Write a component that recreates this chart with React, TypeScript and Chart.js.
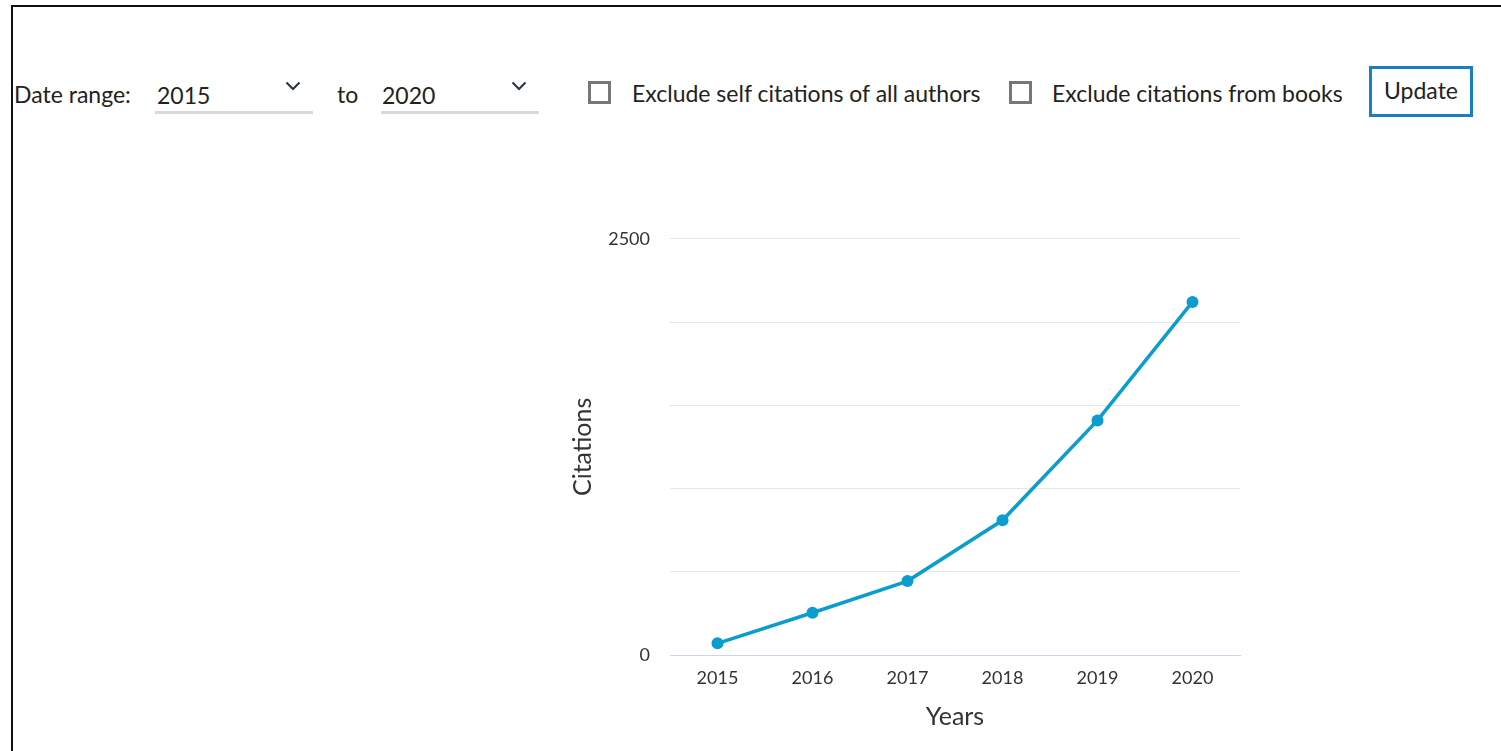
import React, { useEffect, useRef } from "react";
import { Chart, registerables } from "chart.js";

Chart.register(...registerables);

const years = ["2015", "2016", "2017", "2018", "2019", "2020"];
const citations = [70, 254, 444, 809, 1409, 2121];
const shownYTicks = [0, 2500];
const yMax = 2500;
const yStep = 500;

const FONT = "Lato, 'Noto Sans', sans-serif";
const LINE_COLOR = "#0a9dce";

function Chevron({ left, top }: { left: number; top: number }) {
  return (
    <svg
      style={{ position: "absolute", left, top }}
      width={16}
      height={10}
      viewBox="0 0 16 10"
    >
      <polyline points="1.5,1.5 8,8 14.5,1.5" fill="none" stroke="#2a3440" strokeWidth={2} />
    </svg>
  );
}

function Checkbox({ left, top }: { left: number; top: number }) {
  return (
    <div
      style={{
        position: "absolute",
        left,
        top,
        width: 17,
        height: 17,
        border: "3px solid #777",
        background: "#fff",
      }}
    />
  );
}

const textStyle: React.CSSProperties = {
  position: "absolute",
  fontFamily: FONT,
  fontSize: 23,
  color: "#222",
  whiteSpace: "nowrap",
  lineHeight: "26px",
};

export default function App() {
  const canvasRef = useRef<HTMLCanvasElement | null>(null);

  useEffect(() => {
    if (!canvasRef.current) return;
    const chart = new Chart(canvasRef.current, {
      type: "line",
      data: {
        labels: years,
        datasets: [
          {
            label: "Citations",
            data: citations,
            borderColor: LINE_COLOR,
            backgroundColor: LINE_COLOR,
            borderWidth: 3.5,
            pointRadius: 6,
            pointBackgroundColor: LINE_COLOR,
            pointBorderWidth: 0,
            tension: 0,
          },
        ],
      },
      options: {
        animation: false,
        responsive: false,
        devicePixelRatio: 1,
        layout: { padding: { top: 10, right: 10, bottom: 0, left: 0 } },
        plugins: { legend: { display: false }, tooltip: { enabled: false } },
        scales: {
          x: {
            offset: true,
            grid: { display: false, drawTicks: false },
            border: { display: true, color: "#ccd6eb", width: 1 },
            ticks: {
              color: "#333",
              font: { family: FONT, size: 18 },
              padding: 12,
              maxRotation: 0,
            },
            title: {
              display: true,
              text: "Years",
              color: "#333",
              font: { family: FONT, size: 25 },
              padding: { top: 0, bottom: 6 },
            },
            afterFit: (s: any) => {
              s.height = 83;
            },
          },
          y: {
            min: 0,
            max: yMax,
            grid: {
              drawTicks: false,
              color: (ctx: any) => (ctx.tick && ctx.tick.value === 0 ? "rgba(0,0,0,0)" : "#e6e6e6"),
              lineWidth: 1,
            },
            border: { display: false },
            ticks: {
              stepSize: yStep,
              color: "#333",
              font: { family: FONT, size: 18 },
              padding: 20,
              callback: (v: any) => (shownYTicks.includes(Number(v)) ? String(v) : ""),
            },
            title: {
              display: true,
              text: "Citations",
              color: "#333",
              font: { family: FONT, size: 25 },
              padding: { top: 8, bottom: 0 },
            },
            afterFit: (s: any) => {
              s.width = 110;
            },
          },
        },
      },
    });
    return () => chart.destroy();
  }, []);

  return (
    <div
      style={{
        position: "absolute",
        left: 0,
        top: 0,
        width: 1501,
        height: 751,
        overflow: "hidden",
        background: "#fff",
      }}
    >
      {/* frame */}
      <div style={{ position: "absolute", left: 11, top: 5, width: 1490, height: 2, background: "#111" }} />
      <div style={{ position: "absolute", left: 11, top: 5, width: 2, height: 746, background: "#111" }} />

      {/* controls */}
      <div style={{ ...textStyle, left: 14, top: 81 }}>Date range:</div>
      <div style={{ ...textStyle, left: 157, top: 82 }}>2015</div>
      <Chevron left={285} top={81} />
      <div style={{ position: "absolute", left: 155, top: 111, width: 158, height: 3, background: "#d9d9d9" }} />
      <div style={{ ...textStyle, left: 337, top: 81 }}>to</div>
      <div style={{ ...textStyle, left: 382, top: 82 }}>2020</div>
      <Chevron left={511} top={81} />
      <div style={{ position: "absolute", left: 381, top: 111, width: 158, height: 3, background: "#d9d9d9" }} />

      <Checkbox left={588} top={81} />
      <div style={{ ...textStyle, left: 632, top: 80 }}>Exclude self citations of all authors</div>
      <Checkbox left={1009} top={81} />
      <div style={{ ...textStyle, left: 1052, top: 80 }}>Exclude citations from books</div>

      <div
        style={{
          position: "absolute",
          left: 1369,
          top: 66,
          width: 98,
          height: 45,
          border: "3px solid #1a7fc1",
          fontFamily: FONT,
          fontSize: 23,
          color: "#222",
          display: "flex",
          alignItems: "center",
          justifyContent: "center",
          boxSizing: "content-box",
        }}
      >
        <span style={{ marginTop: -4 }}>Update</span>
      </div>

      {/* chart */}
      <div style={{ position: "absolute", left: 560, top: 208, width: 690, height: 530 }}>
        <canvas ref={canvasRef} width={690} height={530} style={{ width: 690, height: 530 }} />
      </div>
    </div>
  );
}
